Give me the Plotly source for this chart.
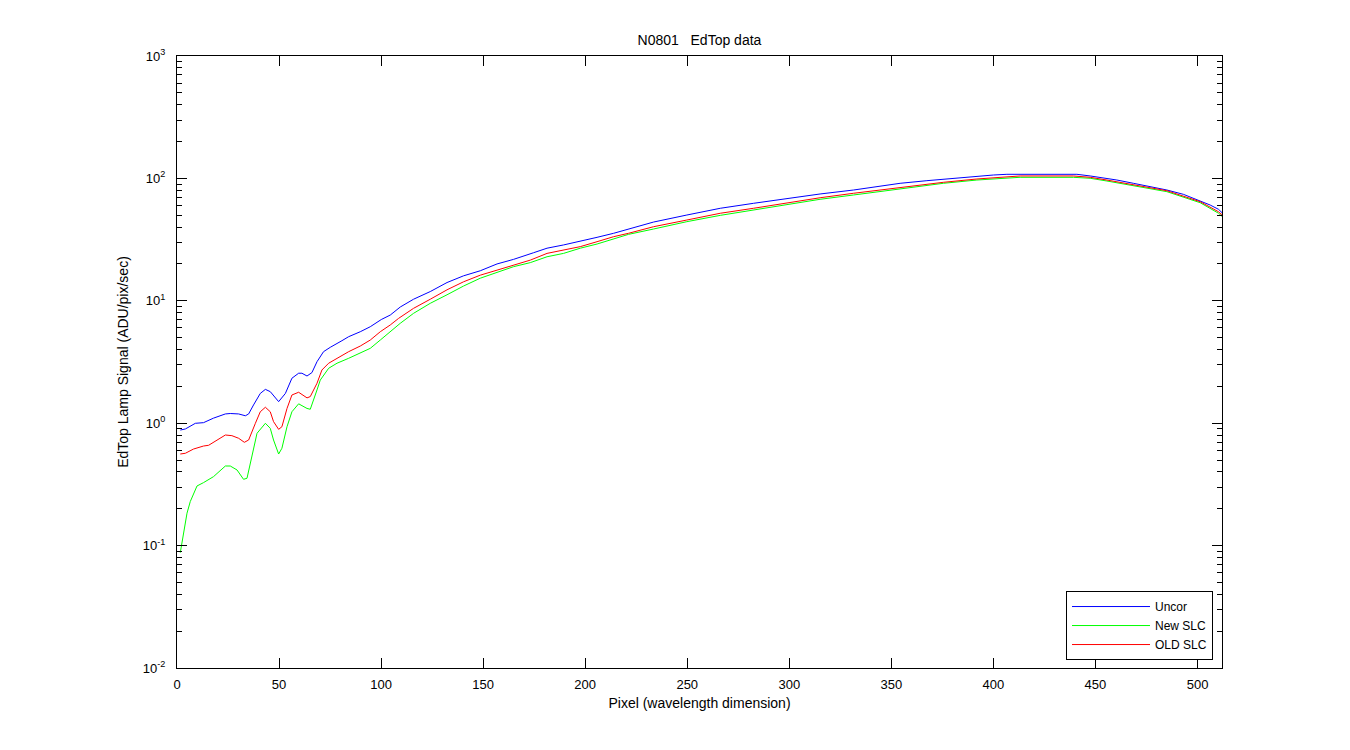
import plotly.graph_objects as go

# ---- data ----
x_uncor = [1.6, 4.1, 9.0, 13.0, 17.9, 23.7, 26.1, 30.2, 33.5, 35.1, 37.5, 40.8, 43.3, 45.7, 49.8,
           53.1, 56.3, 59.6, 61.2, 63.7, 66.1, 68.6, 71.8, 75.1, 80.8, 84.1, 89.8, 94.7, 100.1,
           104.5, 109.4, 115.9, 124.1, 132.3, 140.4, 148.6, 156.8, 164.9, 174.7, 181.3, 189.4,
           197.6, 205.8, 213.9, 221.2, 233.5, 249.8, 266.2, 282.5, 298.8, 315.1, 331.5, 344.5,
           354.3, 367.4, 383.7, 400.0, 406.6, 440.9, 447.4, 455.6, 460.5, 468.6, 476.8, 485.0,
           493.1, 501.3, 506.2, 510.3, 512.0]
y_uncor = [0.879, 0.897, 0.998, 1.01, 1.10, 1.19, 1.20, 1.19, 1.15, 1.19, 1.41, 1.75, 1.89, 1.81, 1.50,
           1.75, 2.33, 2.56, 2.56, 2.43, 2.59, 3.18, 3.84, 4.17, 4.72, 5.09, 5.59, 6.14, 7.03,
           7.65, 8.90, 10.3, 11.9, 14.1, 16.0, 17.6, 20.0, 21.8, 24.7, 26.9, 28.6,
           30.6, 33.0, 35.6, 38.6, 44.0, 50.2, 57.0, 62.6, 68.8, 74.6, 80.4, 86.7,
           91.2, 95.8, 101.3, 106.6, 108.0, 108.0, 104.7, 100.2, 97.0, 91.2, 85.5, 80.4,
           74.1, 65.7, 60.6, 55.9, 52.5]

x_old = [1.6, 4.1, 8.1, 13.0, 15.5, 20.4, 23.7, 26.9, 30.2, 33.0, 35.1, 38.4, 40.8, 43.3, 45.7,
         47.3, 49.8, 51.4, 53.9, 56.3, 59.6, 63.7, 65.3, 68.6, 71.0, 74.3, 78.4, 84.1, 89.8,
         94.7, 99.6, 104.5, 108.6, 115.9, 124.1, 132.3, 140.4, 148.6, 156.8, 164.9, 173.1,
         181.3, 189.4, 197.6, 205.8, 213.9, 221.2, 233.5, 249.8, 266.2, 282.5, 298.8, 315.1,
         331.5, 344.5, 359.2, 375.5, 391.9, 403.3, 413.1, 439.2, 447.4, 455.6, 468.6, 485.0,
         501.3, 510.3, 512.0]
y_old = [0.560, 0.568, 0.615, 0.651, 0.660, 0.739, 0.801, 0.791, 0.753, 0.698, 0.729, 0.998, 1.24, 1.35, 1.24,
         1.03, 0.891, 0.936, 1.32, 1.70, 1.79, 1.61, 1.65, 2.12, 2.72, 3.09, 3.39, 3.84, 4.27,
         4.78, 5.59, 6.35, 7.19, 8.68, 10.3, 12.3, 14.3, 16.2, 17.8, 19.6, 21.5,
         24.4, 26.0, 27.7, 30.4, 33.4, 35.6, 40.3, 45.7, 51.9, 57.0, 63.3, 69.5,
         75.6, 80.4, 87.2, 92.9, 98.9, 102.1, 104.7, 104.7, 102.1, 97.0, 88.3, 79.3,
         64.5, 53.4, 50.5]

x_new = [1.6, 3.2, 4.9, 6.5, 9.8, 13.0, 17.9, 23.7, 26.1, 29.4, 32.6, 34.3, 36.7, 39.2, 43.3,
         45.7, 47.3, 49.8, 51.4, 53.9, 56.3, 59.6, 63.7, 65.3, 68.6, 70.2, 74.3, 78.4, 84.1,
         89.8, 94.7, 99.6, 104.5, 109.4, 115.9, 124.1, 132.3, 140.4, 148.6, 156.8, 164.9,
         173.1, 181.3, 189.4, 197.6, 205.8, 213.9, 221.2, 233.5, 249.8, 266.2, 282.5, 298.8,
         315.1, 331.5, 344.5, 359.2, 375.5, 391.9, 403.3, 413.1, 439.2, 447.4, 455.6, 468.6,
         485.0, 501.3, 510.3, 512.0]
y_new = [0.0875, 0.126, 0.184, 0.229, 0.307, 0.327, 0.366, 0.447, 0.447, 0.415, 0.348, 0.355, 0.532, 0.827, 0.998,
         0.908, 0.729, 0.560, 0.624, 0.936, 1.24, 1.44, 1.32, 1.30, 1.87, 2.25, 2.81, 3.09, 3.39,
         3.72, 4.09, 4.78, 5.59, 6.55, 7.90, 9.54, 11.2, 13.2, 15.3, 17.0, 19.0,
         20.5, 22.9, 24.4, 26.9, 29.1, 31.8, 34.9, 38.6, 44.3, 49.9, 55.2, 61.8,
         67.5, 73.2, 77.9, 84.6, 91.2, 97.0, 100.2, 102.1, 102.1, 100.2, 95.2, 86.7,
         77.9, 63.3, 51.9, 49.0]

series_names = ["Uncor", "New SLC", "OLD SLC"]
series_colors = ["#0000ff", "#00ff00", "#ff0000"]

x_ticks = [0, 50, 100, 150, 200, 250, 300, 350, 400, 450, 500]
y_exponents = [-2, -1, 0, 1, 2, 3]

title_text = "N0801\u00a0\u00a0\u00a0EdTop data"
x_title = "Pixel (wavelength dimension)"
y_title = "EdTop Lamp Signal (ADU/pix/sec)"

# ---- figure ----
FONT = "Liberation Sans, Arial, Helvetica, sans-serif"

fig = go.Figure()
for xs, ys, name, col in zip([x_uncor, x_new, x_old], [y_uncor, y_new, y_old],
                             series_names, series_colors):
    fig.add_trace(go.Scatter(x=xs, y=ys, mode="lines", name=name,
                             line=dict(color=col, width=1)))

y_tickvals = [10.0 ** e for e in y_exponents]
y_ticktext = ["10<sup>%d</sup>" % e for e in y_exponents]
minor_vals = [m * 10.0 ** e for e in y_exponents[:-1] for m in range(2, 10)]

# page body has an 8px margin: compensate so the plot area lands at 177..1222 x 56..668
fig.update_layout(
    width=1350, height=750,
    paper_bgcolor="white", plot_bgcolor="white",
    margin=dict(l=169, r=136, t=48, b=90),
    font=dict(family=FONT, size=13, color="black"),
    title=dict(text=title_text, x=(169 + 1214) / 2 / 1350, xanchor="center",
               y=1 - 32 / 750, yanchor="middle", yref="container",
               font=dict(family=FONT, size=14, color="black")),
    showlegend=True,
    legend=dict(x=0.9914, y=0.013, xanchor="right", yanchor="bottom",
                bgcolor="white", bordercolor="black", borderwidth=1,
                font=dict(family=FONT, size=12, color="black"),
                tracegroupgap=0, itemwidth=78),
)

fig.update_xaxes(
    range=[0, 512], tickmode="array", tickvals=x_ticks,
    ticks="inside", ticklen=10, tickcolor="black", tickwidth=1,
    ticklabelstandoff=4,
    showline=True, linecolor="black", linewidth=1, mirror="allticks",
    showgrid=False, zeroline=False,
    tickfont=dict(family=FONT, size=13, color="black"),
    title=dict(text=x_title, standoff=7, font=dict(family=FONT, size=14, color="black")),
)
fig.update_yaxes(
    type="log", range=[-2, 3], tickmode="array", tickvals=y_tickvals, ticktext=y_ticktext,
    ticks="inside", ticklen=10, tickcolor="black", tickwidth=1,
    ticklabelstandoff=8,
    minor=dict(tickmode="array", tickvals=minor_vals, ticks="inside", ticklen=5,
               tickcolor="black", tickwidth=1, showgrid=False),
    showline=True, linecolor="black", linewidth=1, mirror="allticks",
    showgrid=False, zeroline=False,
    tickfont=dict(family=FONT, size=13, color="black"),
    title=dict(text=y_title, standoff=10, font=dict(family=FONT, size=14, color="black")),
)

fig.write_html("out.html")
